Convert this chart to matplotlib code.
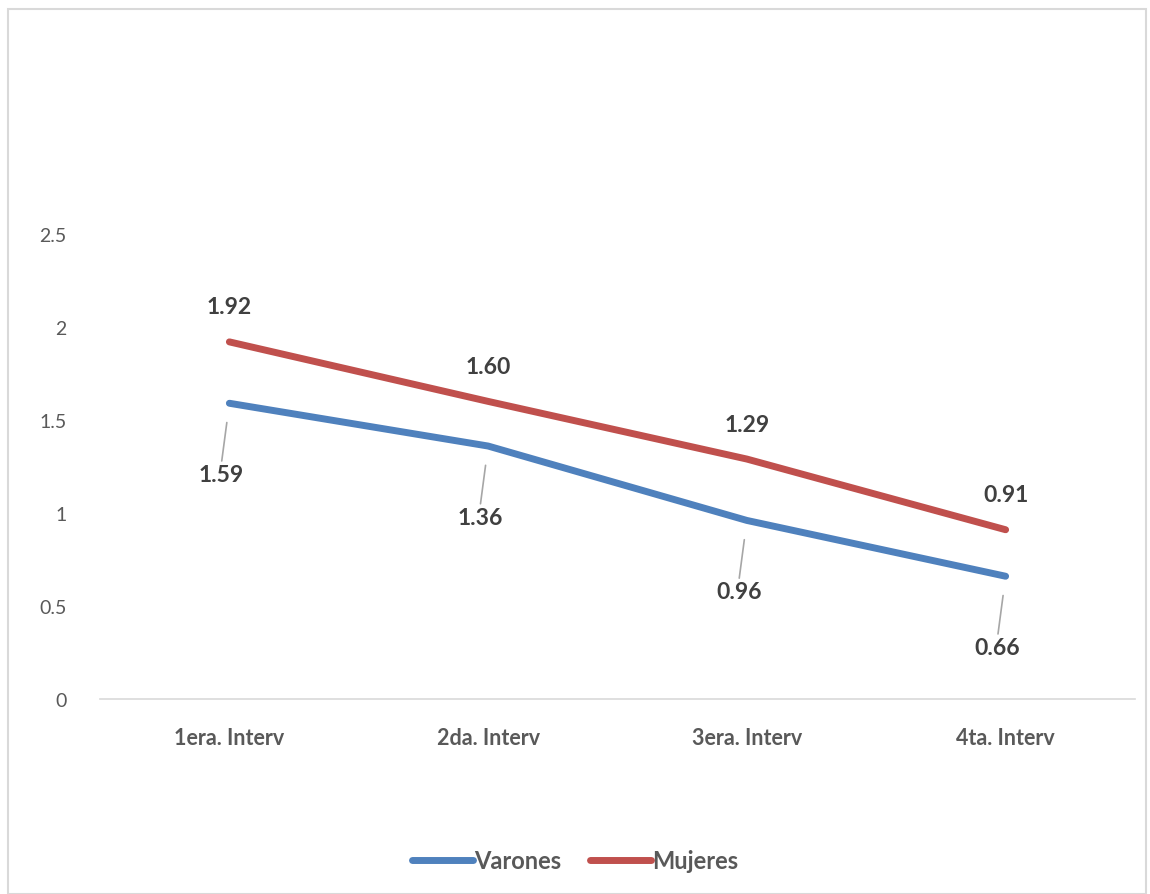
import matplotlib.pyplot as plt
from matplotlib.patches import Rectangle

plt.rcParams['font.family'] = ['Lato', 'DejaVu Sans']

# data
categorias = ['1era. Interv', '2da. Interv', '3era. Interv', '4ta. Interv']
varones = [1.59, 1.36, 0.96, 0.66]
mujeres = [1.92, 1.60, 1.29, 0.91]

azul = '#4F81BD'
rojo = '#C0504D'
gris_txt = '#595959'

fig = plt.figure(figsize=(11.5, 8.95), dpi=100)
ax = fig.add_axes([100 / 1150, 1 - 700 / 895, 1035 / 1150, 558 / 895])

x = list(range(len(categorias)))
ax.plot(x, varones, color=azul, lw=5, solid_capstyle='round', label='Varones')
ax.plot(x, mujeres, color=rojo, lw=5, solid_capstyle='round', label='Mujeres')

# etiquetas de datos
for i, v in enumerate(mujeres):
    ax.annotate(f'{v:.2f}', (i, v), xytext=(0, 35), textcoords='offset pixels',
                ha='center', va='center', fontsize=16.5, fontweight='bold', color='#404040')
for i, v in enumerate(varones):
    ax.annotate(f'{v:.2f}', (i, v), xytext=(-8, -71), textcoords='offset pixels',
                ha='center', va='center', fontsize=16.5, fontweight='bold', color='#404040',
                arrowprops=dict(arrowstyle='-', color='#A6A6A6', lw=1.2,
                                shrinkA=0, shrinkB=14, relpos=(0.5, 1.0)))

ax.set_xlim(-0.5, 3.5)
ax.set_ylim(0, 3.0)
ax.set_yticks([0, 0.5, 1, 1.5, 2, 2.5])
ax.set_yticklabels(['0', '0.5', '1', '1.5', '2', '2.5'])
ax.set_xticks(x)
ax.set_xticklabels(categorias, fontweight='bold')
ax.tick_params(axis='y', length=0, pad=24, labelsize=14, labelcolor=gris_txt)
ax.tick_params(axis='x', length=0, pad=20, labelsize=15.5, labelcolor=gris_txt)
for s in ['top', 'right', 'left']:
    ax.spines[s].set_visible(False)
ax.spines['bottom'].set_color('#D9D9D9')
ax.spines['bottom'].set_linewidth(1.2)

leg = fig.legend(loc='center', bbox_to_anchor=(0.5, 1 - 862 / 895), ncol=2, frameon=False,
                 prop={'weight': 'bold', 'size': 17}, handlelength=2.6, handletextpad=0.05,
                 columnspacing=1.2)
for t in leg.get_texts():
    t.set_color(gris_txt)

# marco del grafico
fig.patches.append(Rectangle((8 / 1150, 0), 1138 / 1150, 1 - 10 / 895, transform=fig.transFigure,
                             fill=False, edgecolor='#D9D9D9', lw=1.5))

fig.savefig('out.png', dpi=100)
